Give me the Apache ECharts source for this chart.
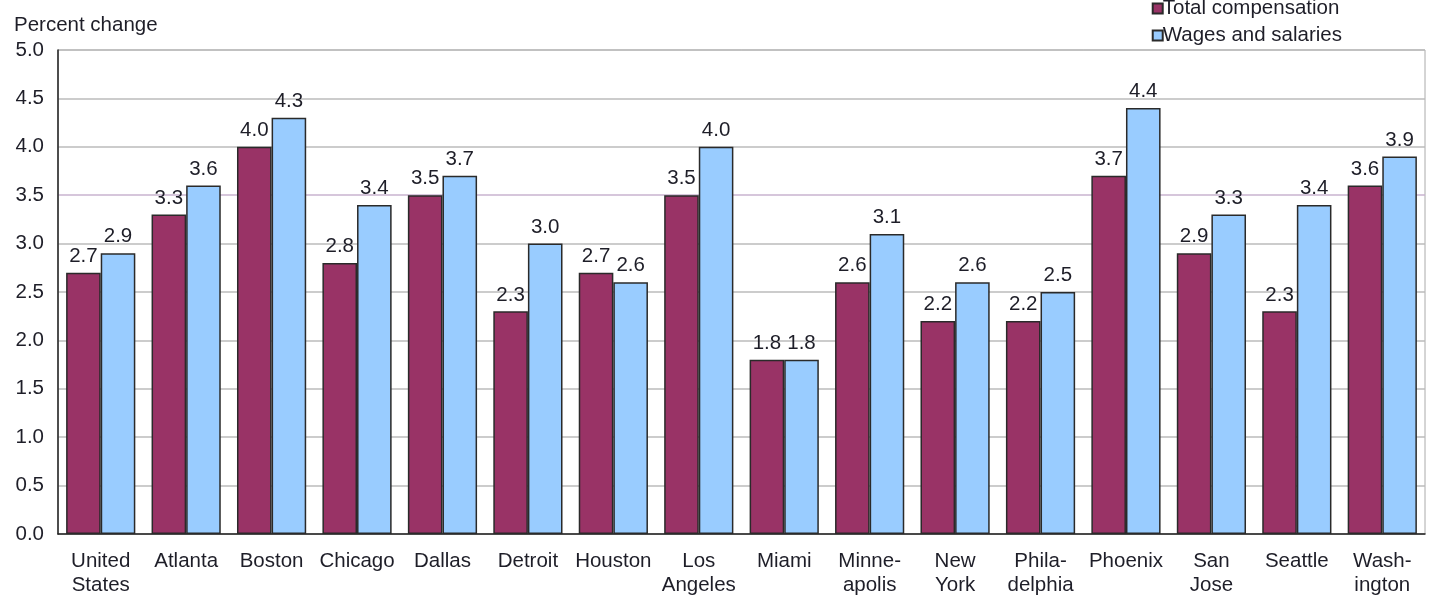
<!DOCTYPE html>
<html>
<head>
<meta charset="utf-8">
<script src="https://cdn.jsdelivr.net/npm/echarts@6/dist/echarts.min.js"></script>
<style>
    html, body { margin: 0; padding: 0; background: #fff; }
    #chart { width: 1435px; height: 597px; }
</style>
</head>
<body>
<div id="chart"></div>
<script>
var cities = ['United\nStates', 'Atlanta', 'Boston', 'Chicago', 'Dallas', 'Detroit', 'Houston', 'Los\nAngeles',
    'Miami', 'Minne-\napolis', 'New\nYork', 'Phila-\ndelphia', 'Phoenix', 'San\nJose', 'Seattle', 'Wash-\nington'];
var totalComp = [2.7, 3.3, 4.0, 2.8, 3.5, 2.3, 2.7, 3.5, 1.8, 2.6, 2.2, 2.2, 3.7, 2.9, 2.3, 3.6];
var wages = [2.9, 3.6, 4.3, 3.4, 3.7, 3.0, 2.6, 4.0, 1.8, 3.1, 2.6, 2.5, 4.4, 3.3, 3.4, 3.9];

var font = 'Liberation Sans, Arial, sans-serif';
var txt = '#1e1e28';
var fs = 20.5;

var myChart = echarts.init(document.getElementById('chart'));
var option = {
    animation: false,
    title: {
        text: 'Percent change',
        left: 9,
        top: 10,
        textStyle: { color: txt, fontSize: fs, fontWeight: 400, fontFamily: font }
    },
    legend: {
        orient: 'vertical',
        right: 88,
        top: -7,
        itemWidth: 10,
        itemHeight: 10,
        itemGap: 6,
        icon: 'rect',
        textStyle: { color: txt, fontSize: fs, fontFamily: font, padding: [0, 0, 0, -5] },
        data: ['Total compensation', 'Wages and salaries']
    },
    grid: {
        top: 50,
        left: 58,
        right: 10,
        bottom: 62,
        show: true,
        borderColor: '#aaa',
        borderWidth: 1
    },
    xAxis: {
        type: 'category',
        data: cities,
        axisLine: { lineStyle: { color: '#222', width: 1.5 } },
        axisTick: { show: false },
        axisLabel: {
            interval: 0,
            margin: 15,
            color: txt,
            fontSize: fs,
            lineHeight: 24,
            fontFamily: font
        }
    },
    yAxis: {
        type: 'value',
        min: 0,
        max: 5,
        interval: 0.5,
        axisLine: { show: true, lineStyle: { color: '#222', width: 1.5 } },
        axisTick: { show: false },
        splitLine: {
            lineStyle: {
                color: ['#bbb', '#bbb', '#bbb', '#bbb', '#bbb', '#bbb', '#bbb', '#c9b3cf', '#bbb', '#bbb', '#bbb'],
                width: 1.5
            }
        },
        axisLabel: {
            color: txt,
            fontSize: fs,
            fontFamily: font,
            margin: 14,
            formatter: function (v) { return v.toFixed(1); }
        }
    },
    series: [
        {
            name: 'Total compensation',
            type: 'bar',
            data: totalComp,
            barGap: '0%',
            barCategoryGap: '19%',
            itemStyle: { color: '#993366', borderColor: '#2a2a2a', borderWidth: 1.5 },
            label: {
                show: true,
                position: 'top',
                distance: 6,
                color: txt,
                fontSize: fs,
                fontFamily: font,
                formatter: function (p) { return p.value.toFixed(1); }
            }
        },
        {
            name: 'Wages and salaries',
            type: 'bar',
            data: wages,
            itemStyle: { color: '#99ccff', borderColor: '#2a2a2a', borderWidth: 1.5 },
            label: {
                show: true,
                position: 'top',
                distance: 6,
                color: txt,
                fontSize: fs,
                fontFamily: font,
                formatter: function (p) { return p.value.toFixed(1); }
            }
        }
    ]
};
myChart.setOption(option);
</script>
</body>
</html>
